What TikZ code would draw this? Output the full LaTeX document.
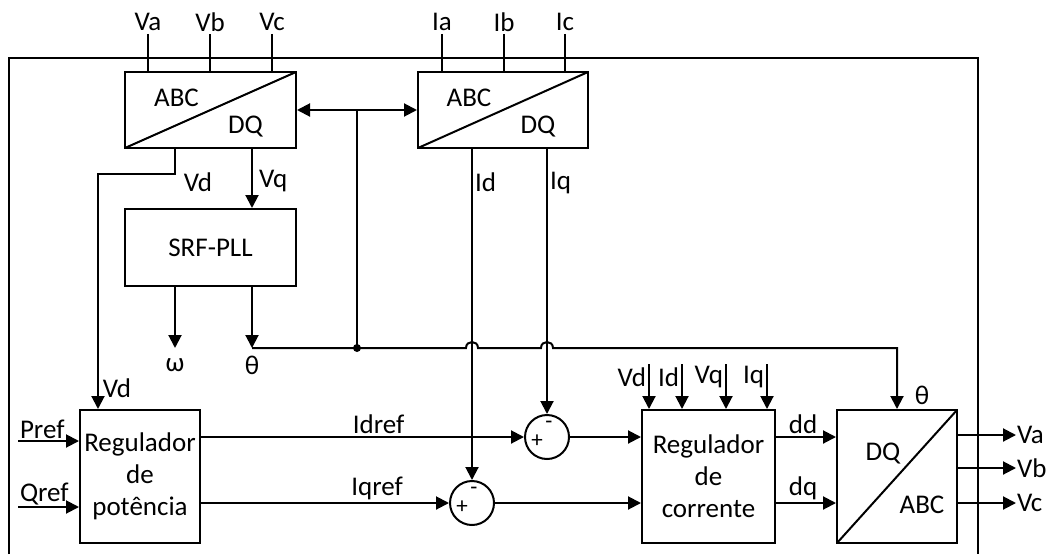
\documentclass[tikz,border=0pt]{standalone}
\usepackage{fontspec}
\setmainfont{Carlito}
\usetikzlibrary{arrows.meta, positioning, calc}

\tikzset{
  blk/.style={draw, line width=2pt, fill=white, inner sep=0pt},
  conv/.style={blk, path picture={\draw[line width=2pt] (path picture bounding box.south west) -- (path picture bounding box.north east);}},
  sumc/.style={draw, circle, line width=2pt, minimum size=44pt, inner sep=0pt},
  sgn/.style={font=\fontsize{23}{26}\selectfont, inner sep=0pt},
}

\begin{document}
\begin{tikzpicture}[x=1pt, y=-1pt, line width=2pt, inner sep=2pt,
    >={Triangle[length=13pt, width=13pt]}, font=\fontsize{27}{32}\selectfont]
  \useasboundingbox (0,0) rectangle (1051,554);
  % frame
  \draw (9,554) -- (9,58) -- (978,58) -- (978,554);

  % blocks
  \node[conv, minimum width=171pt, minimum height=76pt] (abcv) at (210.5,110) {};
  \node (abcv-a) at ([xshift=-34pt, yshift=12pt]abcv.center) {ABC};
  \node (abcv-b) at ([xshift=35pt, yshift=-17pt]abcv.center) {DQ};
  \node[conv, minimum width=170pt, minimum height=76pt] (abci) at (503,110) {};
  \node (abci-a) at ([xshift=-34pt, yshift=12pt]abci.center) {ABC};
  \node (abci-b) at ([xshift=35pt, yshift=-17pt]abci.center) {DQ};
  \node[blk, minimum width=171pt, minimum height=77pt] (pll) at (210.5,247.5) {SRF-PLL};
  \node[blk, minimum width=120pt, minimum height=133pt, align=center] (pot) at (140,476.5) {Regulador\\de\\potência};
  \node[blk, minimum width=133pt, minimum height=133pt, align=center] (cor) at (708.5,476.5) {Regulador\\de\\corrente};
  \node[conv, minimum width=120pt, minimum height=133pt] (dqabc) at (897,476.5) {};
  \node (dqabc-a) at ([xshift=-14pt, yshift=23pt]dqabc.center) {DQ};
  \node (dqabc-b) at ([xshift=25pt, yshift=-28pt]dqabc.center) {ABC};
  \node[sumc] (s1) at (547,437) {};
  \node[sgn] (s1p) at ([xshift=-10pt, yshift=-4pt]s1.center) {+};
  \node[sgn] (s1m) at ([xshift=2pt, yshift=12pt]s1.center) {-};
  \node[sumc] (s2) at (472,503) {};
  \node[sgn] (s2p) at ([xshift=-10pt, yshift=-4pt]s2.center) {+};
  \node[sgn] (s2m) at ([xshift=2pt, yshift=12pt]s2.center) {-};

  % measured inputs
  \foreach \xx/\lbl in {148/Va, 210/Vb, 272/Vc, 442/Ia, 504/Ib, 565/Ic} {
    \node (l\lbl) at (\xx,22) {\lbl};
    \draw (l\lbl.south) -- (l\lbl.south |- abcv.north);
  }

  % angle feedback
  \coordinate (jn) at (357,348);
  \draw[<->] (abcv) -- (abci);
  \draw (jn) -- (jn |- abcv.east);
  \fill (jn) circle (4pt);

  % voltages
  \draw[->] ([xshift=-35.5pt]abcv.south) -- ++(0,25) -| ([xshift=-42pt]pot.north);
  \node (vdl) at (198,182) {Vd};
  \node (vdp) at (117,388) {Vd};
  \draw[->] ([xshift=41.5pt]abcv.south) -- ([xshift=41.5pt]pll.north) node[pos=0.55, right=4pt] (vql) {Vq};

  % pll outputs
  \draw[->] ([xshift=-35.5pt]pll.south) -- ++(0,61);
  \node (oml) at (175,365) {ω};
  \coordinate (thp) at (252,348);
  \draw[->] ([xshift=41.5pt]pll.south) -- (thp);
  \node (thl) at (252,365) {θ};
  \draw[->] (thp) -- (jn) -- ([xshift=-6pt]jn -| s2) .. controls +(0,-8) and +(0,-8) .. ([xshift=6pt]jn -| s2)
    -- ([xshift=-6pt]jn -| s1) .. controls +(0,-8) and +(0,-8) .. ([xshift=6pt]jn -| s1) -| (dqabc.north);
  \node (thd) at (922,395) {θ};

  % currents
  \draw[->] (abci.south -| s2) -- (s2) node[pos=0.1, right] (idl) {Id};
  \draw[->] (abci.south -| s1) -- (s1) node[pos=0.13, right] (iql) {Iq};

  % references
  \coordinate (pin) at (18,441);
  \coordinate (qin) at (18,507);
  \draw[->] (pin) -- (pin -| pot.west);
  \node[anchor=south west, inner sep=1pt] (prl) at (pin) {Pref};
  \draw[->] (qin) -- (qin -| pot.west);
  \node[anchor=south west, inner sep=1pt] (qrl) at (qin) {Qref};
  \draw[->] (pot.east |- s1) -- (s1) node[pos=0.55, above] (idr) {Idref};
  \draw[->] (pot.east |- s2) -- (s2) node[pos=0.71, above] (iqr) {Iqref};
  \draw[->] (s1) -- (s1 -| cor.west);
  \draw[->] (s2) -- (s2 -| cor.west);

  % current regulator
  \foreach \dx/\lbl in {-59.5/Vd, -26.5/Id, 17.5/Vq, 58.5/Iq}
    \draw[->] ([xshift=\dx pt, yshift=45pt]cor.north) -- ([xshift=\dx pt]cor.north) node[pos=0.3, left] (c\lbl) {\lbl};
  \draw[->] (cor.east |- s1) -- (dqabc.west |- s1) node[pos=0.45, above] (ddl) {dd};
  \draw[->] (cor.east |- s2) -- (dqabc.west |- s2) node[pos=0.45, above] (dql) {dq};

  % outputs
  \foreach \yy/\lbl in {435/Va, 468/Vb, 503/Vc} {
    \node[anchor=west, inner sep=0pt] (o\lbl) at (1016,\yy) {\lbl};
    \draw[->] (dqabc.east |- o\lbl.west) -- (o\lbl.west);
  }
\end{tikzpicture}
\end{document}
